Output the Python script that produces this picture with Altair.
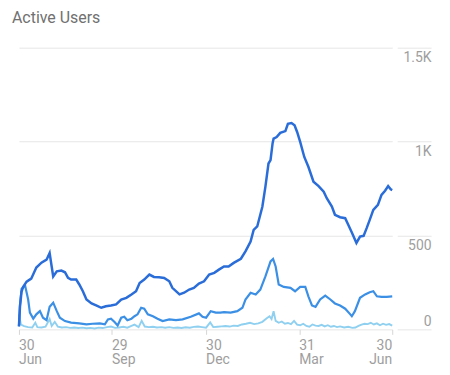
import altair as alt
import pandas as pd

title_text = "Active Users"

# day offsets from 30 Jun
dark_days = [0, 1, 2.5, 4, 7.5, 12, 17, 22, 27, 30, 32, 33.5, 37, 41.5, 45, 48, 51, 56, 59, 62.5,
             66, 71, 76, 80.5, 85, 90, 95, 100, 105, 110, 114.5, 118, 122.5, 127.5, 132, 137,
             142, 147, 150, 157, 161.5, 166.5, 171, 176, 181, 186, 191, 195.5, 200.5, 205, 210,
             217, 221.5, 226.5, 229.5, 233, 238, 241, 244, 246, 248, 249, 252, 255.5, 260.5,
             263, 266.5, 269.5, 272, 275, 279, 283, 288, 293, 298, 301, 306, 309, 314, 319, 322,
             325.5, 330, 333.5, 337, 340, 343, 346.5, 351, 354.5, 358, 361, 363.5, 365]
dark_vals = [16, 120, 200, 225, 254, 270, 329, 355, 371, 406, 335, 282, 309, 313, 304, 274, 265,
             265, 239, 203, 159, 138, 127, 115, 123, 127, 133, 159, 168, 186, 203, 247, 265, 292,
             279, 277, 274, 256, 221, 186, 195, 212, 221, 244, 256, 292, 301, 318, 335, 335, 354,
             376, 415, 468, 530, 548, 653, 760, 883, 901, 990, 1016, 1024, 1046, 1056, 1095,
             1099, 1087, 1051, 998, 918, 866, 786, 763, 733, 698, 654, 610, 597, 592, 557, 516,
             460, 494, 498, 539, 583, 636, 663, 716, 738, 763, 746, 742]

mid_days = [0, 1, 2.6, 6, 9, 10.7, 14, 17, 20.5, 23.5, 27, 30, 33.5, 37, 40, 45, 51, 59, 66, 72,
            79, 84, 87, 90, 93.5, 96.5, 100, 103, 106, 110, 113, 116, 119.5, 122.5, 126, 131,
            135.5, 140.5, 147, 153.5, 160, 168, 176, 179.5, 183, 187.5, 192.5, 197, 200.5, 207,
            213.5, 218.5, 221.5, 226.5, 231.5, 236, 241, 246, 248.5, 251, 254, 259, 265.5, 270,
            275, 280, 283, 286.5, 290, 294.5, 299.5, 304.5, 309, 314, 319, 324, 325.5, 328.5,
            333.5, 338.5, 343, 346.5, 350, 354.5, 359.5, 365]
mid_vals = [16, 130, 216, 233, 159, 89, 57, 80, 97, 62, 49, 120, 142, 97, 62, 44, 36, 32, 27, 30,
            32, 27, 53, 57, 39, 21, 62, 67, 49, 57, 70, 80, 115, 110, 80, 70, 57, 44, 53, 49, 53,
            67, 85, 67, 62, 97, 89, 89, 92, 89, 97, 115, 159, 195, 186, 212, 282, 362, 375, 335,
            239, 226, 221, 203, 226, 226, 176, 127, 120, 159, 180, 159, 138, 127, 110, 80, 70,
            97, 168, 186, 198, 203, 176, 173, 173, 176]

light_days = [0, 2, 5, 9, 13, 16, 18, 22, 26, 30, 32, 35, 38, 42, 46, 50, 54, 58, 62, 66, 70, 74,
              78, 82, 86, 90, 94, 98, 102, 106, 110, 113, 117, 120, 123, 127, 131, 135, 139, 143,
              147, 151, 155, 159, 163, 167, 171, 175, 179, 183, 187, 190, 194, 198, 202, 206,
              210, 214, 218, 222, 226, 230, 234, 238, 242, 245, 247, 249, 251, 254, 257, 260,
              263, 266, 269, 272, 275, 278, 281, 284, 287, 290, 293, 296, 299, 302, 305, 308,
              311, 314, 318, 322, 326, 329, 332, 335, 338, 341, 344, 347, 350, 353, 356, 359,
              362, 365]
light_vals = [80, 25, 17, 12, 10, 35, 12, 10, 14, 55, 18, 40, 15, 10, 12, 8, 10, 7, 9, 6, 8, 5,
              9, 7, 12, 15, 8, 10, 14, 9, 18, 25, 12, 45, 15, 12, 14, 10, 12, 9, 12, 8, 10, 7, 11,
              9, 13, 15, 12, 9, 37, 12, 14, 16, 18, 15, 20, 18, 26, 30, 35, 28, 32, 40, 58, 70,
              55, 97, 45, 35, 42, 30, 34, 28, 45, 25, 22, 30, 18, 14, 26, 20, 18, 24, 16, 22, 14,
              18, 12, 16, 10, 14, 8, 10, 18, 25, 30, 28, 35, 26, 32, 22, 30, 24, 28, 20]

series_names = ["light", "mid", "dark"]
series_colors = ["#8fd0f0", "#3b8fe4", "#2a6dd8"]

tick_days = [0, 91, 183, 274, 365]
tick_top = ["30", "29", "30", "31", "30"]
tick_bottom = ["Jun", "Sep", "Dec", "Mar", "Jun"]
y_ticks = [0, 500, 1000, 1500]

W, H = 375, 283
label_color = "#9e9e9e"
grid_color = "#e6e6e6"

frames = []
for name, d, v in [("light", light_days, light_vals), ("mid", mid_days, mid_vals),
                   ("dark", dark_days, dark_vals)]:
    frames.append(pd.DataFrame({"day": d, "value": v, "series": name}))
df = pd.concat(frames, ignore_index=True)
df["order"] = range(len(df))

ticks_df = pd.DataFrame({"day": tick_days,
                         "label": [f"{a}\n{b}" for a, b in zip(tick_top, tick_bottom)]})
ticks_df["last"] = [i == len(tick_days) - 1 for i in range(len(tick_days))]

x_scale = alt.Scale(domain=[0, 365], nice=False, zero=False)

lines = alt.Chart(df).mark_line(interpolate="linear").encode(
    x=alt.X("day:Q", scale=x_scale,
            axis=alt.Axis(values=tick_days, labels=False, title=None, domain=False,
                          grid=False, ticks=True, tickSize=5, tickColor="#d6d6d6")),
    y=alt.Y("value:Q",
            scale=alt.Scale(domain=[0, 1500], nice=False),
            axis=alt.Axis(orient="right", values=y_ticks, title=None, domain=False,
                          grid=True, gridColor=grid_color, ticks=True, tickSize=34,
                          tickColor=grid_color, offset=5, labelPadding=0, labelAlign="right",
                          labelBaseline="top",
                          labelOffset={"condition": {"test": "datum.value == 0", "value": -15},
                                       "value": 3},
                          labelFont="Roboto", labelFontSize=14, labelColor=label_color,
                          labelExpr="datum.value >= 1000 ? (datum.value / 1000) + 'K' : '' + datum.value")),
    color=alt.Color("series:N", scale=alt.Scale(domain=series_names, range=series_colors),
                    legend=None),
    strokeWidth=alt.StrokeWidth("series:N",
                                scale=alt.Scale(domain=series_names, range=[1.9, 2.5, 2.6]),
                                legend=None),
    detail="series:N",
    order="order:Q",
)

text_style = dict(baseline="top", lineBreak="\n", fontSize=14, lineHeight=14, font="Roboto",
                  color=label_color)

labels_left = alt.Chart(ticks_df).transform_filter("!datum.last").mark_text(
    align="left", **text_style
).encode(x=alt.X("day:Q", scale=x_scale), y=alt.value(H + 10), text="label:N")

labels_right = alt.Chart(ticks_df).transform_filter("datum.last").mark_text(
    align="right", **text_style
).encode(x=alt.X("day:Q", scale=x_scale), y=alt.value(H + 10), text="label:N")

chart = alt.layer(lines, labels_left, labels_right).properties(
    width=W,
    height=H,
    autosize=alt.AutoSizeParams(type="none"),
    padding={"left": 11, "top": 39, "right": 50, "bottom": 45},
    title=alt.TitleParams(title_text, anchor="start", frame="group", dx=-7, fontSize=16,
                          font="Roboto", fontWeight="normal", color="#707070", offset=21),
).configure_view(strokeWidth=0)

chart.save("out.html", embed_options={"renderer": "svg", "actions": False})
